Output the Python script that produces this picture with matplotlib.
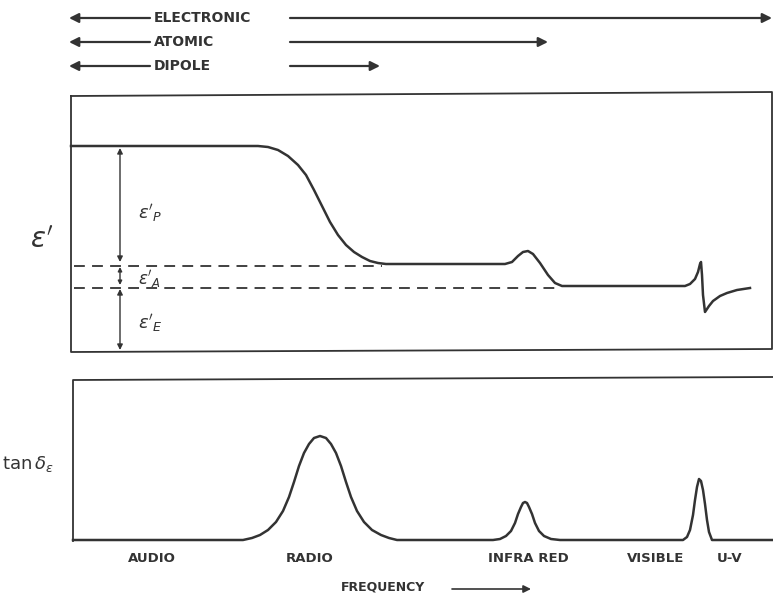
import matplotlib
matplotlib.use('Agg')
import matplotlib.pyplot as plt

# courbe epsilon' (coordonnees, en pixels)
eps_x = [71, 258, 268, 278, 288, 298, 306, 314, 322, 330, 338, 346, 354, 362, 370, 378, 386,
         505, 512, 518, 523, 528, 533, 540, 548, 555, 562,
         685, 690, 695, 698, 700, 701, 702, 703, 705, 709, 713, 720, 727, 737, 750]
eps_y = [146, 146, 147, 150, 156, 165, 175, 190, 206, 222, 235, 245, 252, 257, 261, 263, 264,
         264, 262, 256, 252, 251, 254, 263, 275, 283, 286,
         286, 284, 279, 272, 264, 262, 275, 295, 312, 306, 301, 296, 293, 290, 288]

# courbe tan delta
tan_x = [73, 243, 252, 260, 268, 276, 283, 289, 294, 299, 304, 309, 314, 320, 326, 331, 336, 341, 346,
         351, 357, 364, 372, 381, 389, 397,
         493, 500, 506, 511, 515, 518, 521, 523, 525, 527, 529, 532, 535, 539, 544, 551, 560,
         683, 687, 690, 693, 695, 697, 699, 701, 703, 705, 707, 709, 712, 773]
tan_y = [540, 540, 538, 535, 530, 522, 511, 497, 482, 466, 453, 444, 438, 436, 438, 444, 453, 466, 482,
         497, 511, 522, 530, 535, 538, 540,
         540, 539, 536, 531, 523, 514, 507, 503, 502, 503, 507, 514, 523, 531, 536, 539, 540,
         540, 537, 530, 515, 500, 487, 479, 481, 490, 504, 520, 532, 540, 540]

# niveaux epsilon'_A et epsilon'_E (lignes pointillees)
niveaux_y = [266, 288]
niveaux_fin = [382, 555]

# fleches du haut : nom, y, fin de la fleche de droite
mecanismes = ['ELECTRONIC', 'ATOMIC', 'DIPOLE']
meca_y = [18, 42, 66]
meca_fin = [772, 548, 380]

bandes = ['AUDIO', 'RADIO', 'INFRA RED', 'VISIBLE', 'U-V']
bandes_x = [152, 310, 528, 656, 730]

c = '#333333'
fig = plt.figure(figsize=(7.73, 5.95), dpi=100)
ax = fig.add_axes([0, 0, 1, 1])
ax.set_xlim(0, 773)
ax.set_ylim(595, 0)
ax.axis('off')

def fleche(x1, y1, x2, y2, style='-|>', ms=14, lw=1.6):
    ax.annotate('', xy=(x2, y2), xytext=(x1, y1),
                arrowprops=dict(arrowstyle=style, mutation_scale=ms, lw=lw, color=c,
                                shrinkA=0, shrinkB=0))

# fleches du haut
for nom, y, fin in zip(mecanismes, meca_y, meca_fin):
    fleche(150, y, 69, y)
    ax.text(154, y, nom, fontsize=10, fontweight='bold', color=c, va='center', ha='left')
    fleche(290, y, fin, y)

# cadre du haut
ax.plot([71, 772, 772, 71, 71], [96, 92, 349, 352, 96], color=c, lw=1.3)
# cadre du bas
ax.plot([773, 73, 73], [377, 380, 541], color=c, lw=1.3)

ax.plot(eps_x, eps_y, color=c, lw=1.8, solid_joinstyle='round')
ax.plot(tan_x, tan_y, color=c, lw=1.8, solid_joinstyle='round')

for y, fin in zip(niveaux_y, niveaux_fin):
    ax.plot([74, fin], [y, y], color=c, lw=1.3, dashes=(6, 4))

# fleches verticales
fleche(120, 262, 120, 148, style='<|-|>', ms=8, lw=1.0)
fleche(120, 285, 120, 267, style='<|-|>', ms=6, lw=1.0)
fleche(120, 289, 120, 350, style='<|-|>', ms=8, lw=1.0)

ax.text(138, 213, r"$\epsilon'_P$", fontsize=13, color=c, va='center')
ax.text(138, 279, r"$\epsilon'_A$", fontsize=12, color=c, va='center')
ax.text(138, 323, r"$\epsilon'_E$", fontsize=13, color=c, va='center')

ax.text(30, 240, r"$\epsilon^{\prime}$", fontsize=20, color=c, va='center', ha='left')
ax.text(2, 464, r"$\mathrm{tan}\,\delta_\epsilon$", fontsize=13, color=c, va='center', ha='left')

for nom, x in zip(bandes, bandes_x):
    ax.text(x, 558, nom, fontsize=9.5, fontweight='bold', color=c, ha='center', va='center')
ax.text(383, 587, 'FREQUENCY', fontsize=9, fontweight='bold', color=c, ha='center', va='center')
fleche(452, 589, 531, 589, ms=11, lw=1.2)

fig.savefig('out.png', dpi=100)
